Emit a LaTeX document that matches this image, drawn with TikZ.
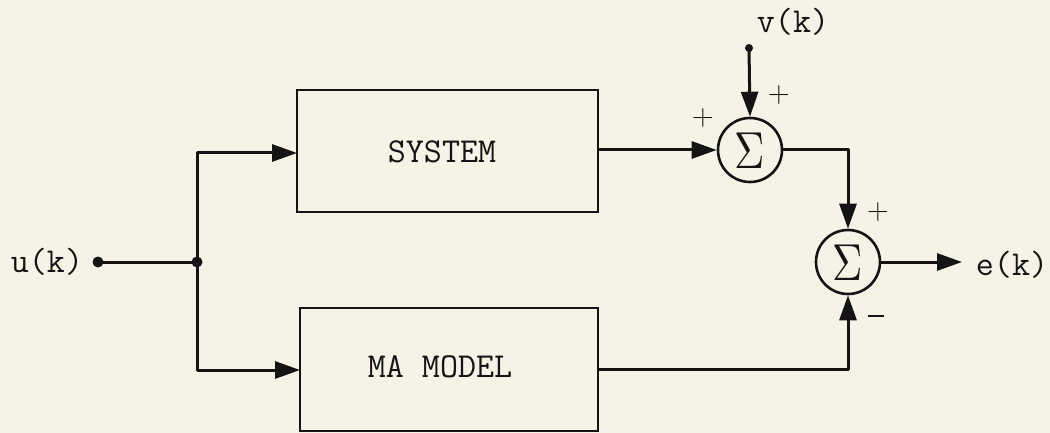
\documentclass[tikz,border=0pt]{standalone}
\usepackage{fontspec}
\usetikzlibrary{arrows.meta}
\definecolor{paper}{RGB}{245,243,230}
\definecolor{ink}{RGB}{20,20,20}
\tikzset{
  wire/.style={draw=ink, line width=3pt, line cap=round, line join=round},
  sig/.style={wire, -{Triangle[length=25pt,width=17pt]}},
  block/.style={draw=ink, line width=2.8pt, rectangle, inner sep=0pt},
  sumnode/.style={draw=ink, line width=2.6pt, circle, minimum size=64pt, inner sep=0pt},
  lbl/.style={text=ink, font=\fontsize{35}{35}\selectfont\ttfamily},
  sgn/.style={text=ink, font=\fontsize{30}{30}\selectfont\rmfamily},
  dotmark/.style={circle, fill=ink, inner sep=0pt, minimum size=11pt}
}
\newcommand{\sumsign}{\scalebox{4.2}[5.2]{$\Sigma$}}
\begin{document}
\begin{tikzpicture}[x=1pt,y=-1pt]
  \fill[paper] (0,0) rectangle (1050,433);
  \useasboundingbox (0,0) rectangle (1050,433);

  % blocks
  \node[block, minimum width=301pt, minimum height=122pt] (sys) at (447.5,151) {};
  \node[lbl] (systxt) at (442,152) {SYSTEM};
  \node[block, minimum width=298pt, minimum height=123pt] (ma) at (449,369.5) {};
  \node[lbl] (matxt) at (440,367) {MA MODEL};

  % summing junctions
  \node[sumnode] (s1) at (750,150) {};
  \node[text=ink] (s1sig) at (750,151) {\sumsign};
  \node[sumnode] (s2) at (848,262) {};
  \node[text=ink] (s2sig) at (848,263) {\sumsign};

  % signal points
  \node[dotmark] (uin) at (98,262) {};
  \node[dotmark] (jn) at (197,262) {};
  \node[dotmark, minimum size=8pt] (vin) at (749,48) {};
  \coordinate (eout) at (962,262);
  \coordinate (sysin) at (297,153);
  \coordinate (main) at (300,370);

  % labels
  \node[lbl] (ulbl) at (47,262) {u(k)};
  \node[lbl] (vlbl) at (793,22) {v(k)};
  \node[lbl] (elbl) at (1012,265) {e(k)};
  \node[sgn] (p1) at (703,118) {+};
  \node[sgn] (p2) at (779,95) {+};
  \node[sgn] (p3) at (878,212) {+};
  \node[sgn] (m1) at (876,320) {\rule[0.25em]{0.55em}{0.08em}};

  % connections
  \draw[wire] (uin.center) -- (jn.center);
  \draw[sig] (jn.center) |- (sysin);
  \draw[sig] (jn.center) |- (main);
  \draw[sig] (sys.east |- s1.west) -- (s1.west);
  \draw[sig] (vin.center) -- (s1.north);
  \draw[sig] (s1.east) -| (s2.north);
  \draw[sig] (ma.east) -| (s2.south);
  \draw[sig] (s2.east) -- (eout);
\end{tikzpicture}
\end{document}
